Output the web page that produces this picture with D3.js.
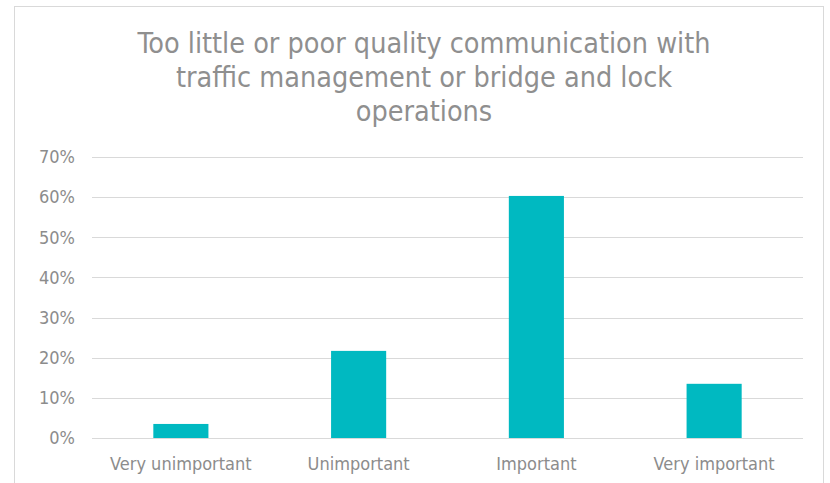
<!DOCTYPE html>
<meta charset="utf-8">
<head>
    <title>Communication chart</title>
</head>
<style>
    body { margin: 0; background: #fff; }
    .grid line { stroke: #d9d9d9; stroke-width: 1px; shape-rendering: crispEdges; }
    .grid path { stroke-width: 0; }
    .axis text { fill: #8c8c8c; font-family: "DejaVu Sans Condensed", sans-serif; font-size: 18px; }
    .title { fill: #8f8f8f; font-family: "DejaVu Sans Condensed", sans-serif; font-size: 28.5px; }
</style>
<script src="https://d3js.org/d3.v7.min.js"></script>
<div id="my_viz"></div>
<script>
    // data
    var categories = ["Very unimportant", "Unimportant", "Important", "Very important"];
    var values = [0.035, 0.217, 0.603, 0.135];
    var yTicks = [0, 0.1, 0.2, 0.3, 0.4, 0.5, 0.6, 0.7];
    var titleLines = ["Too little or poor quality communication with",
                      "traffic management or bridge and lock",
                      "operations"];

    var W = 830, H = 483;
    var margin = { top: 157, right: 27, bottom: 45, left: 92 },
        width = W - margin.left - margin.right,
        height = 438 - margin.top;

    var root = d3.select("#my_viz").append("svg")
        .attr("width", W).attr("height", H);

    // chart border
    root.append("rect")
        .attr("x", 14.5).attr("y", 6.5)
        .attr("width", 809).attr("height", 490)
        .attr("fill", "none").attr("stroke", "#d9d9d9");

    // title
    root.append("g").selectAll("text")
        .data(titleLines).enter().append("text")
        .attr("class", "title")
        .attr("x", 424)
        .attr("y", function (d, i) { return 53 + i * 34; })
        .attr("text-anchor", "middle")
        .text(function (d) { return d; });

    var svg = root.append("g")
        .attr("transform", "translate(" + margin.left + "," + margin.top + ")");

    var x = d3.scaleBand().domain(categories).range([0, width]).paddingInner(0.69).paddingOuter(0.345);
    var y = d3.scaleLinear().domain([0, 0.7]).range([height, 0]);

    // gridlines
    svg.append("g")
        .attr("class", "grid")
        .call(d3.axisLeft(y).tickValues(yTicks).tickSize(-width).tickFormat(""));

    // y labels
    svg.append("g")
        .attr("class", "axis")
        .call(d3.axisLeft(y).tickValues(yTicks).tickSize(0).tickPadding(17).tickFormat(d3.format(".0%")))
        .call(function (g) { g.select(".domain").remove(); });

    // bars
    svg.append("g").selectAll("rect")
        .data(values).enter().append("rect")
        .attr("x", function (d, i) { return x(categories[i]); })
        .attr("y", function (d) { return y(d); })
        .attr("width", x.bandwidth())
        .attr("height", function (d) { return height - y(d); })
        .attr("fill", "#00B9C1");

    // x labels
    svg.append("g")
        .attr("class", "axis")
        .attr("transform", "translate(0," + height + ")")
        .call(d3.axisBottom(x).tickSize(0).tickPadding(19))
        .call(function (g) { g.select(".domain").remove(); });
</script>
